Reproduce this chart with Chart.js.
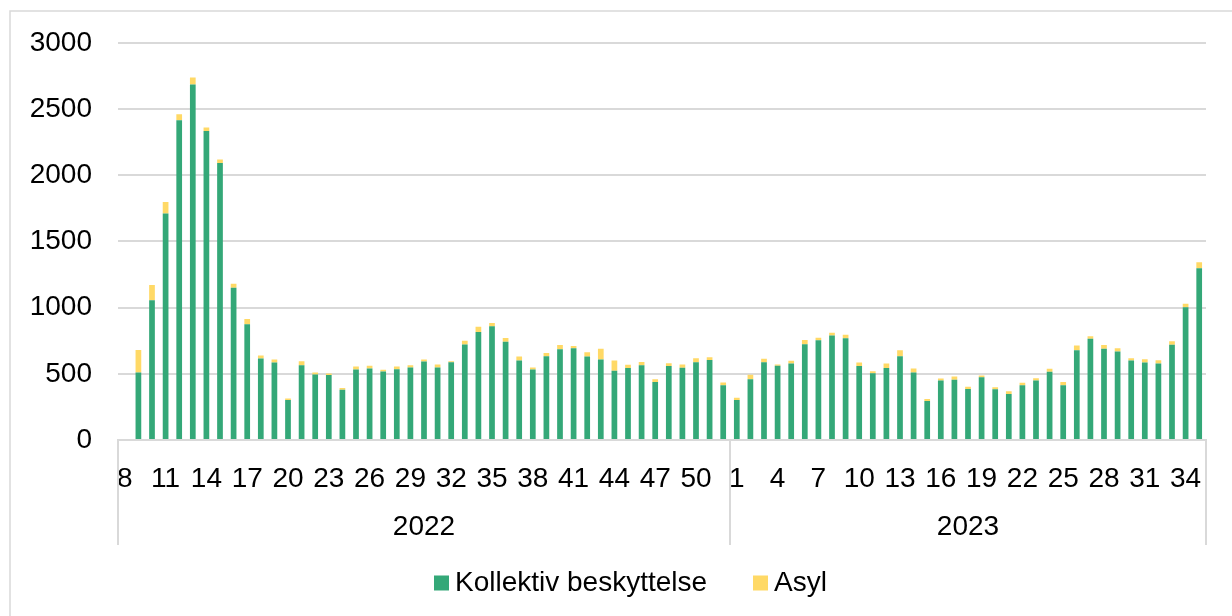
<!DOCTYPE html>
<html>
<head>
<meta charset="utf-8">
<script src="https://cdn.jsdelivr.net/npm/chart.js@4"></script>
<style>
  body { margin: 0; background: #fff; }
  #wrap { width: 1232px; height: 616px; position: relative; }
</style>
</head>
<body>
<div id="wrap"><canvas id="chart" width="1232" height="616"></canvas></div>
<script>
// Weeks and values
const years = ["2022", "2023"];
const weeks2022 = [8,9,10,11,12,13,14,15,16,17,18,19,20,21,22,23,24,25,26,27,28,29,30,31,32,33,34,35,36,37,38,39,40,41,42,43,44,45,46,47,48,49,50,51,52];
const weeks2023 = [1,2,3,4,5,6,7,8,9,10,11,12,13,14,15,16,17,18,19,20,21,22,23,24,25,26,27,28,29,30,31,32,33,34,35];

const kollektiv2022 = [0,510,1055,1710,2415,2685,2333,2093,1150,875,615,585,303,565,495,490,380,533,540,518,535,548,592,548,588,722,815,860,743,600,533,633,685,693,630,608,523,543,565,438,558,545,588,605,414];
const asyl2022 = [8,170,115,88,45,53,27,25,30,38,23,23,10,30,15,13,13,22,20,12,20,17,16,22,7,28,40,23,27,30,15,25,33,17,33,82,77,25,25,20,22,25,30,20,20];
const kollektiv2023 = [303,458,588,560,578,723,753,790,768,558,505,543,633,510,295,450,455,385,473,383,348,414,450,515,413,678,765,690,668,600,585,578,720,1003,1298];
const asyl2023 = [17,35,25,10,20,32,20,20,27,27,15,35,45,30,15,15,25,18,15,15,20,19,16,23,25,35,18,28,25,18,25,25,25,27,45];

const yTicks = [0, 500, 1000, 1500, 2000, 2500, 3000];

const labels = weeks2022.concat(weeks2023).map(String);
const n2022 = weeks2022.length;

const green = "#34a878";
const yellow = "#ffd966";
const gridColor = "#d9d9d9";
const font = "'Liberation Sans', Arial, sans-serif";
const fontSize = 28;

// year labels, group separators, legend and outer frame
const yearAxisPlugin = {
    id: "yearAxis",
    afterDraw(chart) {
        const ctx = chart.ctx;
        const area = chart.chartArea;
        const x = chart.scales.x;
        const split = (x.getPixelForValue(n2022 - 1) + x.getPixelForValue(n2022)) / 2;
        const bottom = area.bottom + 105;

        ctx.save();
        ctx.strokeStyle = gridColor;
        ctx.lineWidth = 2;
        [area.left, split, area.right].forEach(px => {
            ctx.beginPath();
            ctx.moveTo(px, area.bottom);
            ctx.lineTo(px, bottom);
            ctx.stroke();
        });

        ctx.fillStyle = "#000";
        ctx.font = fontSize + "px " + font;
        ctx.textAlign = "center";
        ctx.textBaseline = "middle";
        ctx.fillText(years[0], (area.left + split) / 2, area.bottom + 87);
        ctx.fillText(years[1], (split + area.right) / 2, area.bottom + 87);

        // legend
        const legendY = 583;
        const items = [
            { text: chart.data.datasets[0].label, color: green, x: 434 },
            { text: chart.data.datasets[1].label, color: yellow, x: 753 }
        ];
        ctx.textAlign = "left";
        items.forEach(item => {
            ctx.fillStyle = item.color;
            ctx.fillRect(item.x, legendY - 7.5, 15, 15);
            ctx.fillStyle = "#000";
            ctx.fillText(item.text, item.x + 21, legendY);
        });

        // frame round the chart
        ctx.strokeStyle = gridColor;
        ctx.lineWidth = 1.5;
        ctx.strokeRect(10, 11, 1400, 800);
        ctx.restore();
    }
};

new Chart(document.getElementById("chart"), {
    type: "bar",
    data: {
        labels: labels,
        datasets: [{
            label: "Kollektiv beskyttelse",
            data: kollektiv2022.concat(kollektiv2023),
            backgroundColor: green,
            borderWidth: 0,
            barPercentage: 0.42,
            categoryPercentage: 1
        }, {
            label: "Asyl",
            data: asyl2022.concat(asyl2023),
            backgroundColor: yellow,
            borderWidth: 0,
            barPercentage: 0.42,
            categoryPercentage: 1
        }]
    },
    options: {
        responsive: false,
        animation: false,
        layout: {
            padding: { top: 41, right: 26, bottom: 59, left: 0 }
        },
        plugins: {
            tooltip: { enabled: false },
            legend: { display: false }
        },
        scales: {
            x: {
                stacked: true,
                grid: { display: false, drawTicks: false },
                border: { display: true, color: gridColor, width: 2 },
                ticks: {
                    color: "#000",
                    font: { family: font, size: fontSize },
                    autoSkip: false,
                    maxRotation: 0,
                    padding: 22,
                    callback: function (value, index) {
                        const i = index < n2022 ? index : index - n2022;
                        return i % 3 === 0 ? labels[index] : "";
                    }
                },
                afterFit: function (scale) { scale.height = 117; }
            },
            y: {
                stacked: true,
                min: 0,
                max: 3000,
                afterBuildTicks: function (scale) {
                    scale.ticks = yTicks.map(v => ({ value: v }));
                },
                grid: { color: gridColor, lineWidth: 2, drawTicks: false },
                border: { display: false },
                ticks: {
                    color: "#000",
                    font: { family: font, size: fontSize },
                    padding: 26,
                    callback: function (value) { return String(value); }
                },
                afterFit: function (scale) { scale.width = 118; }
            }
        }
    },
    plugins: [yearAxisPlugin]
});
</script>
</body>
</html>
